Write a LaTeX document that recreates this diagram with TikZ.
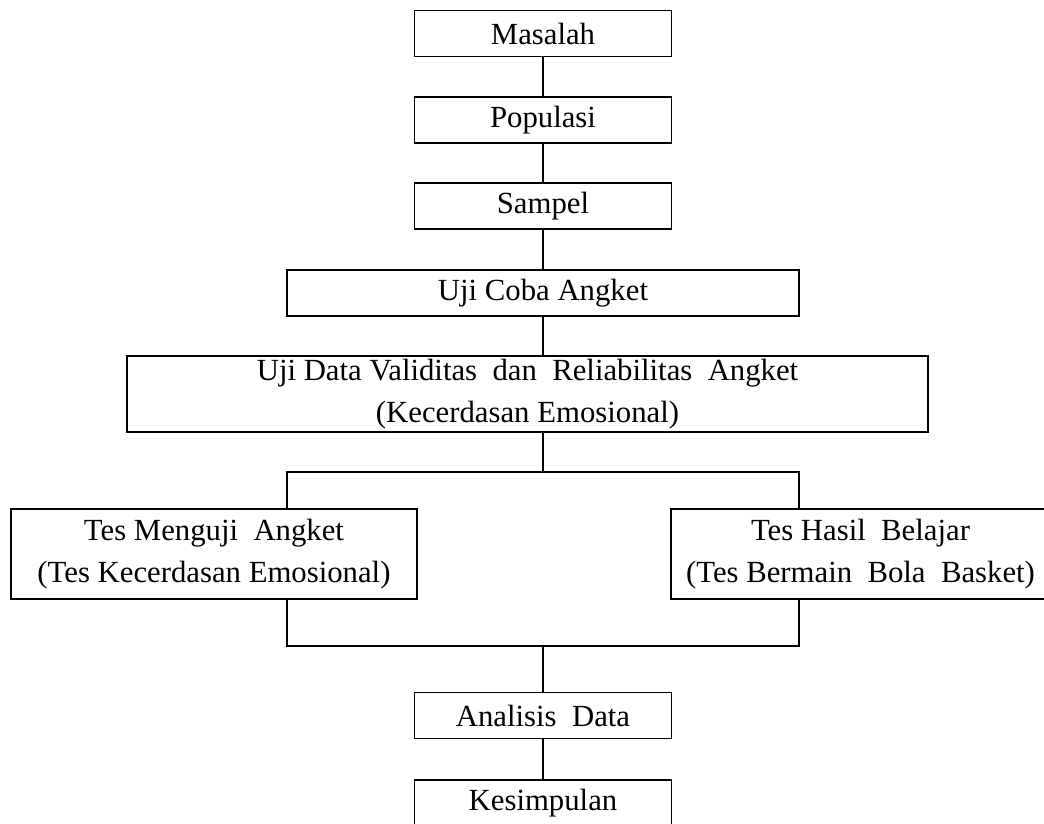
\documentclass[tikz,border=0pt]{standalone}
\usepackage{fontspec}
\setmainfont{Liberation Serif}
\usepackage{tikz}

\tikzset{
  kotak/.style={draw, line width=1.1pt, align=center, inner sep=2pt,
    font=\fontsize{17.5}{23.5}\selectfont},
  kecil/.style={kotak, minimum width=5.14cm, minimum height=0.92cm},
  garis/.style={line width=1.1pt}
}

\begin{document}
\begin{tikzpicture}[x=0.02cm, y=-0.02cm]
    \useasboundingbox (0,0) rectangle (1044,823);
    \clip (0,0) rectangle (1044,823);
    % kotak-kotak alur
    \node[kecil] (masalah) at (543,33.5) {Masalah};
    \node[kecil] (populasi) at (543,120) {Populasi};
    \node[kecil] (sampel) at (543,206) {Sampel};
    \node[kotak, minimum width=10.24cm, minimum height=0.92cm] (ujicoba) at (543,293) {Uji Coba Angket};
    \node[kotak, minimum width=16.02cm, minimum height=1.52cm] (ujidata) at (527.5,394)
        {Uji Data Validitas \ dan \ Reliabilitas \ Angket\\(Kecerdasan Emosional)};
    \node[kotak, minimum width=8.12cm, minimum height=1.8cm] (tesangket) at (214,554)
        {Tes Menguji \ Angket\\(Tes Kecerdasan Emosional)};
    \node[kotak, minimum width=7.58cm, minimum height=1.8cm] (teshasil) at (860.5,554)
        {Tes Hasil \ Belajar\\(Tes Bermain \ Bola \ Basket)};
    \node[kecil] (analisis) at (543,715.5) {Analisis \ Data};
    \node[kecil] (kesimpulan) at (543,803) {Kesimpulan};
    % titik cabang
    \coordinate (cabang) at (543,472);
    \coordinate (kiri) at (287,472);
    \coordinate (kanan) at (799,472);
    \coordinate (gabung) at (543,646);
    \coordinate (kiribawah) at (287,646);
    \coordinate (kananbawah) at (799,646);
    % garis penghubung
    \draw[garis] (masalah) -- (populasi);
    \draw[garis] (populasi) -- (sampel);
    \draw[garis] (sampel) -- (ujicoba);
    \draw[garis] (ujicoba.south) -- (ujicoba.south |- ujidata.north);
    \draw[garis] (ujicoba.south |- ujidata.south) -- (cabang);
    \draw[garis] (kiri |- tesangket.north) -- (kiri) -- (kanan) -- (kanan |- teshasil.north);
    \draw[garis] (kiribawah |- tesangket.south) -- (kiribawah) -- (kananbawah) -- (kananbawah |- teshasil.south);
    \draw[garis] (gabung) -- (analisis);
    \draw[garis] (analisis) -- (kesimpulan);
\end{tikzpicture}
\end{document}
